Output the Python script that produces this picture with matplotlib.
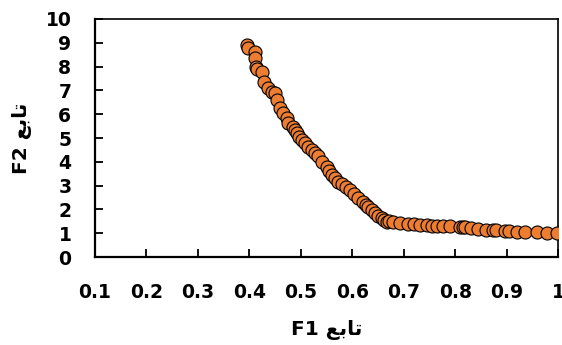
import matplotlib
matplotlib.use("Agg")
import matplotlib.pyplot as plt

# Pareto front values
f1 = [0.395, 0.397, 0.411, 0.411, 0.412, 0.415, 0.425, 0.429, 0.437, 0.445,
      0.450, 0.453, 0.460, 0.466, 0.473, 0.476, 0.484, 0.489, 0.492, 0.497,
      0.502, 0.508, 0.514, 0.521, 0.527, 0.534, 0.542, 0.550, 0.555, 0.560,
      0.566, 0.573, 0.580, 0.588, 0.596, 0.604, 0.612, 0.620, 0.626, 0.631,
      0.638, 0.644, 0.650, 0.657, 0.662, 0.667, 0.672, 0.680, 0.692, 0.709,
      0.720, 0.732, 0.745, 0.755, 0.765, 0.777, 0.790, 0.810, 0.815, 0.819,
      0.830, 0.845, 0.860, 0.874, 0.880, 0.897, 0.905, 0.920, 0.936, 0.959,
      0.978, 0.997]
f2 = [8.91, 8.80, 8.63, 8.35, 7.99, 7.90, 7.79, 7.37, 7.09, 6.95,
      6.88, 6.60, 6.25, 6.05, 5.83, 5.62, 5.45, 5.34, 5.20, 5.05,
      4.92, 4.78, 4.64, 4.50, 4.38, 4.24, 4.00, 3.79, 3.62, 3.45,
      3.30, 3.16, 3.05, 2.94, 2.82, 2.65, 2.47, 2.32, 2.20, 2.11,
      1.97, 1.84, 1.74, 1.63, 1.56, 1.48, 1.50, 1.48, 1.44, 1.39,
      1.37, 1.34, 1.33, 1.32, 1.31, 1.30, 1.29, 1.27, 1.26, 1.25,
      1.21, 1.16, 1.15, 1.13, 1.12, 1.09, 1.08, 1.06, 1.06, 1.04,
      1.02, 1.00]

xticks = [0.1, 0.2, 0.3, 0.4, 0.5, 0.6, 0.7, 0.8, 0.9, 1.0]
xticklabels = ["0.1", "0.2", "0.3", "0.4", "0.5", "0.6", "0.7", "0.8", "0.9", "1"]
yticks = list(range(0, 11))

# "تابع" pre-shaped (presentation forms, visual order) since matplotlib does no Arabic shaping
arabic = "\uFECA\uFE91\uFE8E\uFE97"
xlabel = "F1 " + arabic
ylabel = "F2 " + arabic

plt.rcParams['font.family'] = ['DejaVu Sans']
plt.rcParams['font.weight'] = 'bold'

fig = plt.figure(figsize=(5.62, 3.45), dpi=100)
ax = fig.add_axes([0.169, 0.255, 0.824, 0.69])

ax.scatter(f1, f2, s=88, color='#ED7D31', edgecolors='black', linewidths=0.8, zorder=3)

ax.set_xlim(0.1, 1.0)
ax.set_ylim(0, 10)
ax.set_xticks(xticks)
ax.set_xticklabels(xticklabels)
ax.set_yticks(yticks)

ax.tick_params(axis='both', direction='in', length=6, width=1.3, labelsize=13.5,
               top=False, right=False)
ax.tick_params(axis='x', pad=19)
ax.tick_params(axis='y', pad=17)
for lab in ax.get_xticklabels() + ax.get_yticklabels():
    lab.set_fontweight('bold')

for side in ['left', 'bottom']:
    ax.spines[side].set_linewidth(1.6)
for side in ['top', 'right']:
    ax.spines[side].set_linewidth(1.2)

ax.set_xlabel(xlabel, fontsize=14.5, fontweight='bold', labelpad=13)
ax.set_ylabel(ylabel, fontsize=14.5, fontweight='bold', labelpad=10)

fig.savefig("out.png", dpi=100)
